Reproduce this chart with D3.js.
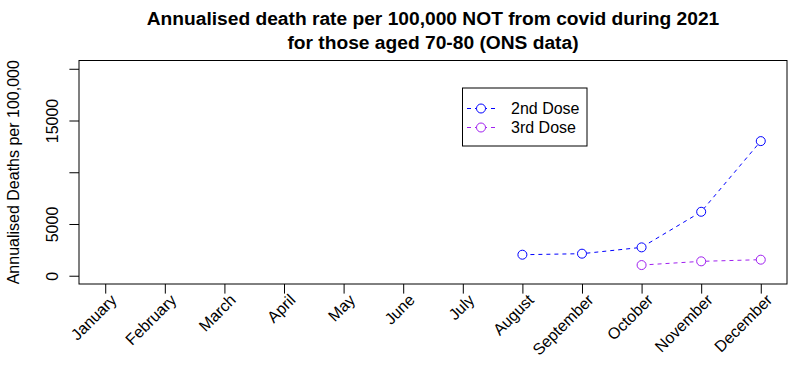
<!DOCTYPE html>
<html>
<head>
<meta charset="utf-8">
<script src="https://cdn.jsdelivr.net/npm/d3@7"></script>
<style>
  body { margin: 0; background: #fff; }
  text { font-family: "Liberation Sans", Arial, sans-serif; }
</style>
</head>
<body>
<div id="chart"></div>
<script>
var width = 809;
var height = 382;

// data
var months = ["January", "February", "March", "April", "May", "June", "July",
              "August", "September", "October", "November", "December"];
var dose2Months = ["August", "September", "October", "November", "December"];
var dose2Values = [2030, 2130, 2740, 6180, 13010];
var dose3Months = ["October", "November", "December"];
var dose3Values = [1030, 1390, 1550];
var yTicks = [0, 5000, 10000, 15000, 20000];
var yTickLabels = ["0", "5000", "", "15000", ""];

var margin = {left: 79, right: 22, top: 60.5, bottom: 98};
var plotW = width - margin.left - margin.right;
var plotH = height - margin.top - margin.bottom;

// R style 4% padding on both axes
var xScale = d3.scaleLinear().domain([1 - 0.44, 12 + 0.44]).range([margin.left, margin.left + plotW]);
var yScale = d3.scaleLinear().domain([-800, 20800]).range([margin.top + plotH, margin.top]);
function mx(m) { return xScale(months.indexOf(m) + 1); }

var svg = d3.select("#chart").append("svg")
    .attr("width", width)
    .attr("height", height);

// title
svg.append("text")
    .attr("x", margin.left + plotW / 2).attr("y", 25)
    .attr("text-anchor", "middle")
    .style("font-size", "19.2px").style("font-weight", "bold")
    .text("Annualised death rate per 100,000 NOT from covid during 2021");
svg.append("text")
    .attr("x", margin.left + plotW / 2).attr("y", 49)
    .attr("text-anchor", "middle")
    .style("font-size", "19.2px").style("font-weight", "bold")
    .text("for those aged 70-80 (ONS data)");

// x axis
var xAxis = d3.axisBottom(xScale)
    .tickValues(d3.range(1, 13))
    .tickFormat(function(d) { return months[d - 1]; })
    .tickSize(9.6).tickSizeOuter(0);
var gx = svg.append("g")
    .attr("transform", "translate(0," + (margin.top + plotH) + ")")
    .call(xAxis);
gx.select(".domain").remove();
gx.selectAll("line").attr("stroke", "#000");
gx.selectAll("text")
    .style("font-size", "16px").attr("fill", "#000")
    .attr("text-anchor", "end")
    .attr("dy", null).attr("y", 0)
    .attr("transform", "translate(12,17) rotate(-45)");

// y axis
var yAxis = d3.axisLeft(yScale)
    .tickValues(yTicks)
    .tickFormat(function(d, i) { return yTickLabels[i]; })
    .tickSize(9.6).tickSizeOuter(0);
var gy = svg.append("g")
    .attr("transform", "translate(" + margin.left + ",0)")
    .call(yAxis);
gy.select(".domain").remove();
gy.selectAll("line").attr("stroke", "#000");
gy.selectAll("text")
    .style("font-size", "16px").attr("fill", "#000")
    .attr("text-anchor", "middle")
    .attr("x", 0).attr("dy", null)
    .attr("transform", "translate(-21.5,0) rotate(-90)");

svg.append("text")
    .attr("transform", "translate(18.5," + (margin.top + plotH / 2) + ") rotate(-90)")
    .attr("text-anchor", "middle")
    .style("font-size", "16px")
    .text("Annualised Deaths per 100,000");

// plot box
svg.append("rect")
    .attr("x", margin.left).attr("y", margin.top)
    .attr("width", plotW).attr("height", plotH)
    .attr("fill", "none").attr("stroke", "#000");

// series
function drawSeries(ms, vals, color) {
  var pts = ms.map(function(m, i) { return [mx(m), yScale(vals[i])]; });
  var line = d3.line();
  svg.append("path")
      .attr("d", line(pts))
      .attr("fill", "none").attr("stroke", color)
      .attr("stroke-dasharray", "4,4");
  svg.selectAll(null).data(pts).enter().append("circle")
      .attr("cx", function(d) { return d[0]; })
      .attr("cy", function(d) { return d[1]; })
      .attr("r", 4.5)
      .attr("fill", "#fff").attr("stroke", color);
}
drawSeries(dose2Months, dose2Values, "#0000ff");
drawSeries(dose3Months, dose3Values, "#a020f0");

// legend
var legend = svg.append("g").attr("transform", "translate(462.5,88)");
legend.append("rect")
    .attr("width", 124.5).attr("height", 58)
    .attr("fill", "#fff").attr("stroke", "#000");
var items = [["2nd Dose", "#0000ff"], ["3rd Dose", "#a020f0"]];
items.forEach(function(it, i) {
  var y = 20.5 + i * 19;
  legend.append("line")
      .attr("x1", 4.5).attr("x2", 32.5).attr("y1", y).attr("y2", y)
      .attr("stroke", it[1]).attr("stroke-dasharray", "4,4");
  legend.append("circle")
      .attr("cx", 18.5).attr("cy", y).attr("r", 4.5)
      .attr("fill", "#fff").attr("stroke", it[1]);
  legend.append("text")
      .attr("x", 48.5).attr("y", y + 5.5)
      .style("font-size", "16px")
      .text(it[0]);
});
</script>
</body>
</html>
